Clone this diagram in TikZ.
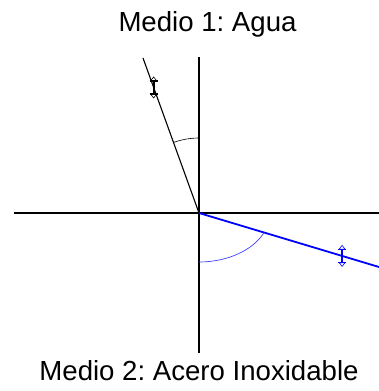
\documentclass[tikz,border=0pt]{standalone}
\usepackage{fontspec}
\setmainfont{Liberation Sans}
\usetikzlibrary{arrows.meta,calc}
\frenchspacing

\begin{document}
\begin{tikzpicture}[
  x=1pt, y=1pt,
  axis/.style={draw=black, line width=1.1pt},
  ray/.style={draw=black, line width=1.1pt},
  refr/.style={draw=blue, line width=1.8pt},
  angarc/.style={draw=black, line width=0.6pt},
  refarc/.style={draw=blue!75, line width=0.7pt},
  medio/.style={font=\fontsize{27.6}{30}\selectfont, anchor=base, inner sep=0pt},
  marca/.style={line width=1.8pt, {Triangle[open,width=7pt,length=4.5pt,line width=0.6pt]}-{Triangle[open,width=7pt,length=4.5pt,line width=0.6pt]}},
  barra/.style={line width=1.2pt}
]
\useasboundingbox (-199,-178) rectangle (180,213);
\coordinate (O) at (0,0);
\coordinate (arriba) at (0,156);
\coordinate (abajo) at (0,-140);
\coordinate (izq) at (-185,0);
\coordinate (der) at (180,0);
\coordinate (inc) at (-56,155);
\coordinate (trans) at (180,-54);
\coordinate (m1) at ($(O)!0.81!(inc)$);
\coordinate (m2) at ($(O)!0.795!(trans)$);
% ejes
\draw[axis] (izq) -- (der);
\draw[axis] (arriba) -- (abajo);
% rayo incidente y refractado
\draw[ray] (O) -- (inc);
\draw[refr] (O) -- (trans);
% angulos
\draw[angarc] (0,75) arc[start angle=90, end angle=109.9, radius=75];
\draw[refarc] (0,-49) arc[start angle=-90, end angle=-23.6, x radius=71, y radius=49];
% marcas sobre los rayos
\draw[marca, draw=black] ($(m1)+(0,-11)$) -- ($(m1)+(0,11)$);
\draw[barra, draw=black] ($(m1)+(-4,6.5)$) -- ++(8,0) ($(m1)+(-4,-6.5)$) -- ++(8,0);
\draw[marca, draw=blue] ($(m2)+(0,-11)$) -- ($(m2)+(0,11)$);
\draw[barra, draw=blue] ($(m2)+(-4,6.5)$) -- ++(8,0) ($(m2)+(-4,-6.5)$) -- ++(8,0);
\node[medio] (medio1) at (8.5,181) {Medio 1: Agua};
\node[medio] (medio2) at (0,-167) {Medio 2: Acero Inoxidable};
\end{tikzpicture}
\end{document}
